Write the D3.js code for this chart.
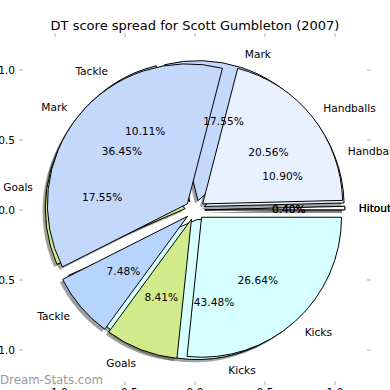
<!DOCTYPE html>
<html>
<head>
<meta charset="utf-8">
<script src="https://cdn.jsdelivr.net/npm/d3@7"></script>
<style>
  body { margin: 0; background: #fff; }
  svg { display: block; font-family: "DejaVu Sans", sans-serif; }
</style>
</head>
<body>
<script>
// two seasons of score spread drawn over each other, same order of categories
const categories = ["Hitout", "Handballs", "Mark", "Tackle", "Goals", "Kicks"];
const colors = ["#ffffff", "#e9f1ff", "#c4d8fc", "#b6d4fe", "#d1ea8b", "#d6ffff"];
const seriesA = [0.40, 20.56, 36.45, 7.48, 8.41, 26.64];
const seriesB = [0.40, 10.90, 17.55, 10.11, 17.55, 43.48];
const tickValues = [-1.0, -0.5, 0.0, 0.5, 1.0];

const width = 390, height = 390;
const explode = 0.07;

const svg = d3.select("body").append("svg")
  .attr("width", width)
  .attr("height", height);

const x = d3.scaleLinear().domain([-1.243, 1.243]).range([21, 369]);
const y = d3.scaleLinear().domain([-1.236, 1.25]).range([383, 35]);
const R = x(1) - x(0);

// matplotlib style: start at 3 o'clock, go counterclockwise
const pie = d3.pie().sort(null)
  .startAngle(Math.PI / 2)
  .endAngle(Math.PI / 2 - 2 * Math.PI);
const arc = d3.arc().innerRadius(0).outerRadius(R);

function layout(values) {
  return pie(values).map((d, i) => {
    const mid = (d.startAngle + d.endAngle) / 2;
    const cx = explode * Math.sin(mid), cy = explode * Math.cos(mid);
    return {
      arc: d, i: i, mid: mid,
      vx: x(cx), vy: y(cy),
      lx: cx + 1.1 * Math.sin(mid), ly: cy + 1.1 * Math.cos(mid),
      px: cx + 0.6 * Math.sin(mid), py: cy + 0.6 * Math.cos(mid),
      value: values[i]
    };
  });
}

const wedgesB = layout(seriesB);
const wedgesA = layout(seriesA);

// ticks (no frame)
const tickColor = "#b0b0b0";
const ticks = svg.append("g").attr("stroke", tickColor).attr("stroke-width", 1);
tickValues.forEach(t => {
  ticks.append("line").attr("x1", 19).attr("x2", 23).attr("y1", y(t)).attr("y2", y(t));
  ticks.append("line").attr("x1", 367).attr("x2", 371).attr("y1", y(t)).attr("y2", y(t));
  ticks.append("line").attr("x1", x(t)).attr("x2", x(t)).attr("y1", 33).attr("y2", 37);
  ticks.append("line").attr("x1", x(t)).attr("x2", x(t)).attr("y1", 381).attr("y2", 385);
});

const fmtTick = d3.format(".1f");
svg.append("g").selectAll("text")
  .data(tickValues).enter().append("text")
  .attr("x", 15)
  .attr("y", d => y(d))
  .attr("text-anchor", "end")
  .attr("dominant-baseline", "central")
  .attr("font-size", "10.6px")
  .text(d => fmtTick(d).replace("-", "\u2212"));

svg.append("g").selectAll("text")
  .data(tickValues).enter().append("text")
  .attr("x", d => x(d))
  .attr("y", 396)
  .attr("text-anchor", "middle")
  .attr("font-size", "10.6px")
  .text(d => fmtTick(d).replace("-", "\u2212"));

// shadows first, under every wedge
const sx = x(-0.02) - x(0), sy = y(-0.02) - y(0);
[wedgesB, wedgesA].forEach(ws => {
  svg.append("g").selectAll("path")
    .data(ws).enter().append("path")
    .attr("transform", d => `translate(${d.vx + sx},${d.vy + sy})`)
    .attr("d", d => arc(d.arc))
    .attr("fill", d => {
      const c = d3.rgb(colors[d.i]);
      return `rgba(${c.r * 0.3},${c.g * 0.3},${c.b * 0.3},0.5)`;
    })
    .attr("stroke", "none");
});

[wedgesB, wedgesA].forEach(ws => {
  svg.append("g").selectAll("path")
    .data(ws).enter().append("path")
    .attr("transform", d => `translate(${d.vx},${d.vy})`)
    .attr("d", d => arc(d.arc))
    .attr("fill", d => colors[d.i])
    .attr("stroke", "#000")
    .attr("stroke-width", 1)
    .attr("stroke-linejoin", "miter");
});

const fmtPct = d3.format(".2f");
[wedgesB, wedgesA].forEach(ws => {
  const g = svg.append("g").attr("font-size", "10.6px").attr("fill", "#000");
  g.selectAll("text.lab")
    .data(ws).enter().append("text")
    .attr("class", "lab")
    .attr("x", d => x(d.lx))
    .attr("y", d => y(d.ly))
    .attr("text-anchor", d => d.lx > 0 ? "start" : "end")
    .attr("dominant-baseline", "central")
    .text(d => categories[d.i]);
  g.selectAll("text.pct")
    .data(ws).enter().append("text")
    .attr("class", "pct")
    .attr("x", d => x(d.px))
    .attr("y", d => y(d.py))
    .attr("text-anchor", "middle")
    .attr("dominant-baseline", "central")
    .text(d => fmtPct(d.value) + "%");
});

svg.append("text")
  .attr("x", width / 2)
  .attr("y", 30)
  .attr("text-anchor", "middle")
  .attr("font-size", "13px")
  .text("DT score spread for Scott Gumbleton (2007)");

svg.append("text")
  .attr("x", 0)
  .attr("y", 384)
  .attr("font-size", "11.8px")
  .attr("fill", "#9a9a9a")
  .text("Dream-Stats.com");
</script>
</body>
</html>
